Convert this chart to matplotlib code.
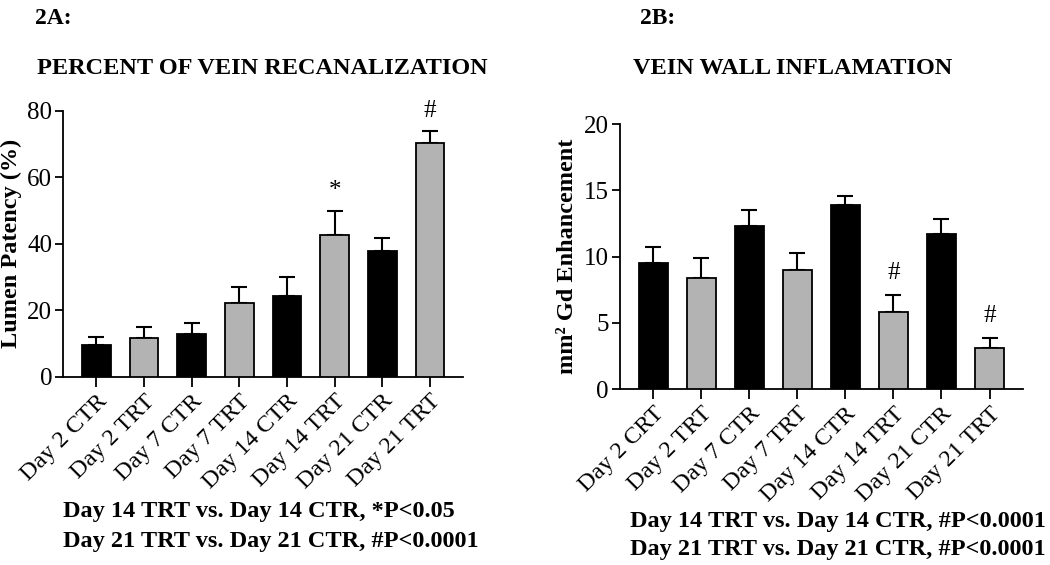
import matplotlib
matplotlib.use("Agg")
import matplotlib.pyplot as plt

plt.rcParams['font.family'] = ['Liberation Serif', 'DejaVu Serif']

labels_a = ["Day 2 CTR", "Day 2 TRT", "Day 7 CTR", "Day 7 TRT",
            "Day 14 CTR", "Day 14 TRT", "Day 21 CTR", "Day 21 TRT"]
values_a = [9.5, 11.7, 12.8, 22.3, 24.4, 42.5, 37.7, 70.4]
errors_a = [2.4, 3.1, 3.4, 4.6, 5.6, 7.4, 3.9, 3.5]
marks_a = ["", "", "", "", "", "*", "", "#"]

labels_b = ["Day 2 CRT", "Day 2 TRT", "Day 7 CTR", "Day 7 TRT",
            "Day 14 CTR", "Day 14 TRT", "Day 21 CTR", "Day 21 TRT"]
values_b = [9.5, 8.37, 12.34, 9.0, 13.9, 5.83, 11.7, 3.09]
errors_b = [1.25, 1.53, 1.15, 1.3, 0.7, 1.3, 1.14, 0.8]
marks_b = ["", "", "", "", "", "#", "", "#"]

colors = ["#000000", "#b3b3b3"] * 4

fig = plt.figure(figsize=(10.5, 5.65), dpi=100)
axA = fig.add_axes([0.0603, 0.3333, 0.3807, 0.4708])
axB = fig.add_axes([0.5905, 0.311, 0.3835, 0.4695])


def draw(ax, labels, values, errors, marks, ymax, yticks, ylabel, mark_off):
    x = list(range(len(values)))
    ax.bar(x, values, width=0.6, color=colors, edgecolor="black", linewidth=1.3, zorder=3)
    ax.errorbar(x, values, yerr=[[0] * len(errors), errors], fmt="none",
                ecolor="black", elinewidth=1.5, capsize=6, capthick=1.5, zorder=2)
    for xi, v, e, m in zip(x, values, errors, marks):
        if m:
            ax.text(xi, v + e + mark_off, m, ha="center", va="center", fontsize=18)
    ax.set_xlim(-0.69, 7.69)
    ax.set_ylim(0, ymax)
    ax.set_yticks(yticks)
    ax.set_xticks(x)
    ax.set_xticklabels(labels, rotation=45, ha="right", rotation_mode="anchor", fontsize=17.5)
    ax.tick_params(axis="y", labelsize=18, length=6, width=1.3, pad=2)
    ax.tick_params(axis="x", length=7, width=1.3, pad=3)
    for s in ["top", "right"]:
        ax.spines[s].set_visible(False)
    for s in ["left", "bottom"]:
        ax.spines[s].set_linewidth(1.3)
    ax.set_ylabel(ylabel, fontsize=17.5, fontweight="bold", labelpad=4)


draw(axA, labels_a, values_a, errors_a, marks_a, 80, [0, 20, 40, 60, 80],
     "Lumen Patency (%)", 6)
draw(axB, labels_b, values_b, errors_b, marks_b, 20, [0, 5, 10, 15, 20],
     "mm\u00b2 Gd Enhancement", 1.6)

fig.text(35 / 1050, 1 - 18 / 565, "2A:", fontsize=17, fontweight="bold", ha="left", va="center")
fig.text(262 / 1050, 1 - 68 / 565, "PERCENT OF VEIN RECANALIZATION", fontsize=17.5,
         fontweight="bold", ha="center", va="center")
fig.text(640 / 1050, 1 - 18 / 565, "2B:", fontsize=17, fontweight="bold", ha="left", va="center")
fig.text(793 / 1050, 1 - 68 / 565, "VEIN WALL INFLAMATION", fontsize=17.5,
         fontweight="bold", ha="center", va="center")

fig.text(63 / 1050, 1 - 511 / 565, "Day 14 TRT vs. Day 14 CTR, *P<0.05", fontsize=17.5,
         fontweight="bold", ha="left", va="center")
fig.text(63 / 1050, 1 - 542 / 565, "Day 21 TRT vs. Day 21 CTR, #P<0.0001", fontsize=17.5,
         fontweight="bold", ha="left", va="center")
fig.text(630 / 1050, 1 - 522 / 565, "Day 14 TRT vs. Day 14 CTR, #P<0.0001", fontsize=17.5,
         fontweight="bold", ha="left", va="center")
fig.text(630 / 1050, 1 - 550 / 565, "Day 21 TRT vs. Day 21 CTR, #P<0.0001", fontsize=17.5,
         fontweight="bold", ha="left", va="center")

fig.savefig("out.png", dpi=100)
